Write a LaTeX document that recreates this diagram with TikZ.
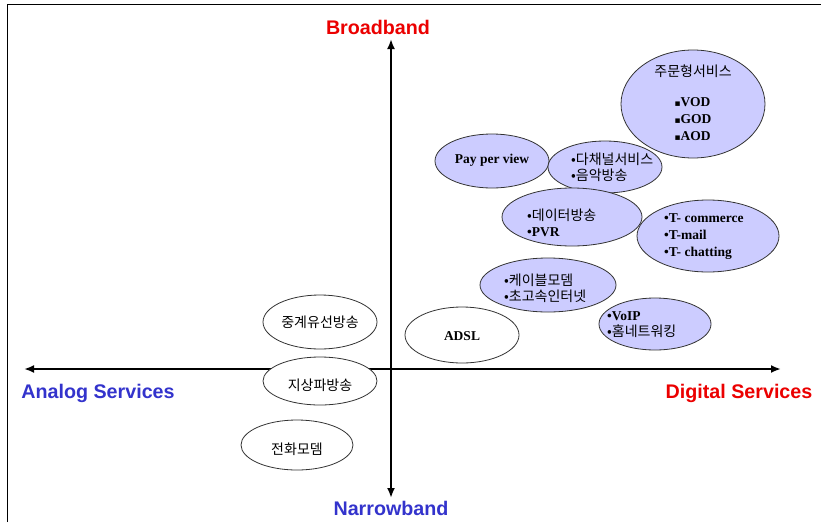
\documentclass[tikz,border=0pt]{standalone}
\usepackage{fontspec}
\setmainfont{Liberation Serif}
\newfontfamily\kr{Noto Sans CJK KR}
\newfontfamily\ax{Liberation Sans}
\newfontfamily\dv{DejaVu Sans}
\usetikzlibrary{arrows.meta,shapes.geometric}
\definecolor{fillp}{RGB}{204,204,255}
\definecolor{axred}{RGB}{235,0,0}
\definecolor{axblue}{RGB}{51,51,204}
\tikzset{
  ell/.style={draw=black!80, line width=0.8pt, ellipse, inner sep=0pt},
  pell/.style={ell, fill=fillp},
  well/.style={ell, fill=white},
  axis/.style={line width=2.6pt, -{Latex[length=10pt,width=8pt]}},
  axlab/.style={font=\ax\bfseries\fontsize{19.7}{22}\selectfont},
  krt/.style={font=\kr\fontsize{14}{16}\selectfont, align=left, inner sep=0pt},
  lat/.style={font=\bfseries\fontsize{13.5}{17}\selectfont, align=left, inner sep=0pt},
}
\begin{document}
\begin{tikzpicture}[x=1pt,y=-1pt]
\useasboundingbox (0,0) rectangle (821,522);
\draw[line width=1pt] (7,522) -- (7,4) -- (821,4);
% axes
\coordinate (c) at (391,369);
\coordinate (l) at (24,369);
\coordinate (r) at (781,369);
\coordinate (t) at (391,39);
\coordinate (b) at (391,498);
\draw[axis] (c) -- (l);
\draw[axis] (c) -- (r);
\draw[axis] (c) -- (t);
\draw[axis] (c) -- (b);
\node[axlab, text=axred] (broad) at (378,27) {Broadband};
\node[axlab, text=axblue] (narrow) at (391,508) {Narrowband};
\node[axlab, text=axblue] (analog) at (98,393) {Analog Services};
\node[axlab, text=axred] (digital) at (739,393) {Digital Services};
% purple ellipses
\node[pell, minimum width=144pt, minimum height=108pt] (vod) at (693,104) {};
\node[krt] (vodt) at (693,71) {주문형서비스};
\node[lat] (vodl) at (693,119) {{\dv\fontsize{9}{17}\selectfont ▪}VOD\\{\dv\fontsize{9}{17}\selectfont ▪}GOD\\{\dv\fontsize{9}{17}\selectfont ▪}AOD};
\node[pell, minimum width=114pt, minimum height=54pt] (ppv) at (492,161) {};
\node[lat] (ppvt) at (492,160) {Pay per view};
\node[pell, minimum width=114pt, minimum height=52pt] (multi) at (605,167) {};
\node[krt, anchor=west] (multit) at (571,167) {•다채널서비스\\•음악방송};
\node[pell, minimum width=142pt, minimum height=72pt] (tcom) at (708,236) {};
\node[lat, anchor=west] (tcomt) at (664,237) {•T- commerce\\•T-mail\\•T- chatting};
\node[pell, minimum width=140pt, minimum height=58pt] (data) at (572,217) {};
\node[krt, anchor=west] (datat) at (527,223) {•데이터방송\\{\rmfamily\bfseries\fontsize{13.5}{16}\selectfont •PVR}};
\node[pell, minimum width=136pt, minimum height=54pt] (cable) at (548,285) {};
\node[krt, anchor=west] (cablet) at (504,288) {•케이블모뎀\\•초고속인터넷};
\node[pell, minimum width=112pt, minimum height=52pt] (voip) at (655,324) {};
\node[krt, anchor=west] (voipt) at (607,325) {{\rmfamily\bfseries\fontsize{13.5}{16}\selectfont •VoIP}\\•홈네트워킹};
% white ellipses
\node[well, minimum width=114pt, minimum height=54pt] (relay) at (320,322) {};
\node[krt] (relayt) at (320,322) {중계유선방송};
\node[well, minimum width=114pt, minimum height=56pt] (adsl) at (462,335) {};
\node[lat] (adslt) at (462,336) {ADSL};
\node[well, minimum width=114pt, minimum height=48pt] (terr) at (320,381) {};
\node[krt] (terrt) at (320,385) {지상파방송};
\node[well, minimum width=112pt, minimum height=50pt] (modem) at (297,445) {};
\node[krt] (modemt) at (297,449) {전화모뎀};
\end{tikzpicture}
\end{document}
